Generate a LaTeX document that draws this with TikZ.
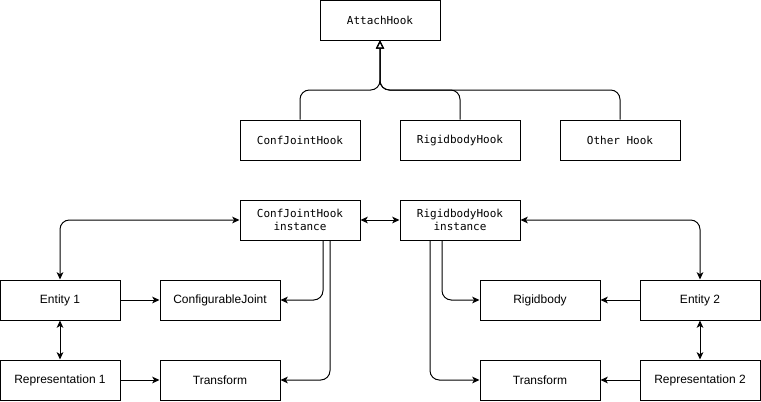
\documentclass[tikz,border=0pt]{standalone}
\usepackage{fontspec}
\setmainfont{Liberation Sans}
\newfontfamily\codefont{DejaVu Sans Mono}
\usetikzlibrary{arrows.meta,calc}
\tikzset{
  box/.style={draw, line width=0.75pt, minimum width=90pt, minimum height=30pt,
    inner sep=1pt, font=\fontsize{9}{10.5}\selectfont},
  codebox/.style={box, align=center, font=\codefont\fontsize{8.25}{10}\selectfont},
  conn/.style={line width=0.75pt, rounded corners=7pt, -{Stealth[length=5.5pt,width=5pt,inset=1.5pt]}},
  both/.style={conn, {Stealth[length=5.5pt,width=5pt,inset=1.5pt]}-{Stealth[length=5.5pt,width=5pt,inset=1.5pt]}},
  inherit/.style={line width=0.75pt, rounded corners=7pt, -{Triangle[open,length=6pt,width=6pt]}}
}
\begin{document}
\begin{tikzpicture}[x=0.75pt,y=-0.75pt]
\useasboundingbox (0,0) rectangle (761,401);
\node[codebox] (ah) at (380,20) {AttachHook};
\node[codebox] (cjh) at (300,140) {ConfJointHook};
\node[codebox] (rbh) at (460,140) {RigidbodyHook};
\node[codebox] (oh) at (620,140) {Other Hook};
\coordinate (join) at (380,90);
\draw[inherit] (cjh.north) |- (join) -- (ah.south);
\draw[inherit] (rbh.north) |- (join) -- (ah.south);
\draw[inherit] (oh.north) |- (join) -- (ah.south);

\node[codebox] (cji) at (300,220) {ConfJointHook\\instance};
\node[codebox] (rbi) at (460,220) {RigidbodyHook\\instance};
\node[box] (e1) at (60,300) {Entity 1};
\node[box] (cj) at (220,300) {ConfigurableJoint};
\node[box] (r1) at (60,380) {Representation 1};
\node[box] (t1) at (220,380) {Transform};
\node[box] (rb) at (540,300) {Rigidbody};
\node[box] (e2) at (700,300) {Entity 2};
\node[box] (t2) at (540,380) {Transform};
\node[box] (r2) at (700,380) {Representation 2};

\draw[both] (cji.east) -- (rbi.west);
\draw[both] (e1.north) |- (cji.west);
\draw[both] (rbi.east) -| (e2.north);
\draw[conn] ($(cji.south)+(23,0)$) |- (cj.east);
\draw[conn] ($(cji.south)+(30,0)$) |- (t1.east);
\draw[conn] ($(rbi.south)+(-18,0)$) |- (rb.west);
\draw[conn] ($(rbi.south)+(-30,0)$) |- (t2.west);
\draw[conn] (e1) -- (cj);
\draw[conn] (r1) -- (t1);
\draw[both] (e1) -- (r1);
\draw[conn] (e2) -- (rb);
\draw[conn] (r2) -- (t2);
\draw[both] (e2) -- (r2);
\end{tikzpicture}
\end{document}
